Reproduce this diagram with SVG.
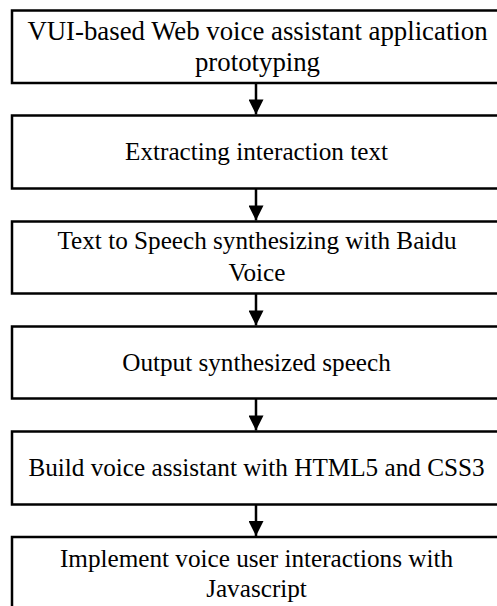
<svg xmlns="http://www.w3.org/2000/svg" width="497" height="606" viewBox="0 0 497 606">
<style>
.box{fill:#fff;stroke:#000;stroke-width:2.5}
.t{font-family:"Liberation Serif","Times New Roman",serif;font-size:25.2px;fill:#000;text-anchor:middle}
.big{font-size:26.8px}
.c{stroke:#000;stroke-width:2.5;fill:none}
</style>
<defs>
<marker id="ah" markerUnits="userSpaceOnUse" markerWidth="16" markerHeight="15" refX="16" refY="8" viewBox="0 0 16 16" orient="auto">
<path d="M0,0 L16,8 L0,16 Z" fill="#000"/>
</marker>
</defs>
<rect width="497" height="606" fill="#fff"/>
<g id="connectors">
<line class="c" x1="256" y1="83" x2="256" y2="114.5" marker-end="url(#ah)"/>
<line class="c" x1="256" y1="188.5" x2="256" y2="220.5" marker-end="url(#ah)"/>
<line class="c" x1="256" y1="293.5" x2="256" y2="325.5" marker-end="url(#ah)"/>
<line class="c" x1="256" y1="398.5" x2="256" y2="430.5" marker-end="url(#ah)"/>
<line class="c" x1="256" y1="504.5" x2="256" y2="536" marker-end="url(#ah)"/>
</g>
<g id="n1">
<rect class="box" x="12" y="10.5" width="495" height="72.5"/>
<text class="t big" x="257.5" y="39.5">VUI-based Web voice assistant application</text>
<text class="t big" x="257.5" y="71">prototyping</text>
</g>
<g id="n2">
<rect class="box" x="12" y="115.5" width="495" height="73"/>
<text class="t" x="256.5" y="160">Extracting interaction text</text>
</g>
<g id="n3">
<rect class="box" x="12" y="221.5" width="495" height="72"/>
<text class="t" x="257" y="249">Text to Speech synthesizing with Baidu</text>
<text class="t" x="257" y="280.5">Voice</text>
</g>
<g id="n4">
<rect class="box" x="12" y="326.5" width="495" height="72"/>
<text class="t" x="256.5" y="371">Output synthesized speech</text>
</g>
<g id="n5">
<rect class="box" x="12" y="431.5" width="495" height="73"/>
<text class="t" x="256.5" y="476">Build voice assistant with HTML5 and CSS3</text>
</g>
<g id="n6">
<rect class="box" x="12" y="537" width="495" height="80"/>
<text class="t" x="256.5" y="566.5">Implement voice user interactions with</text>
<text class="t" x="256.5" y="597">Javascript</text>
</g>
</svg>
